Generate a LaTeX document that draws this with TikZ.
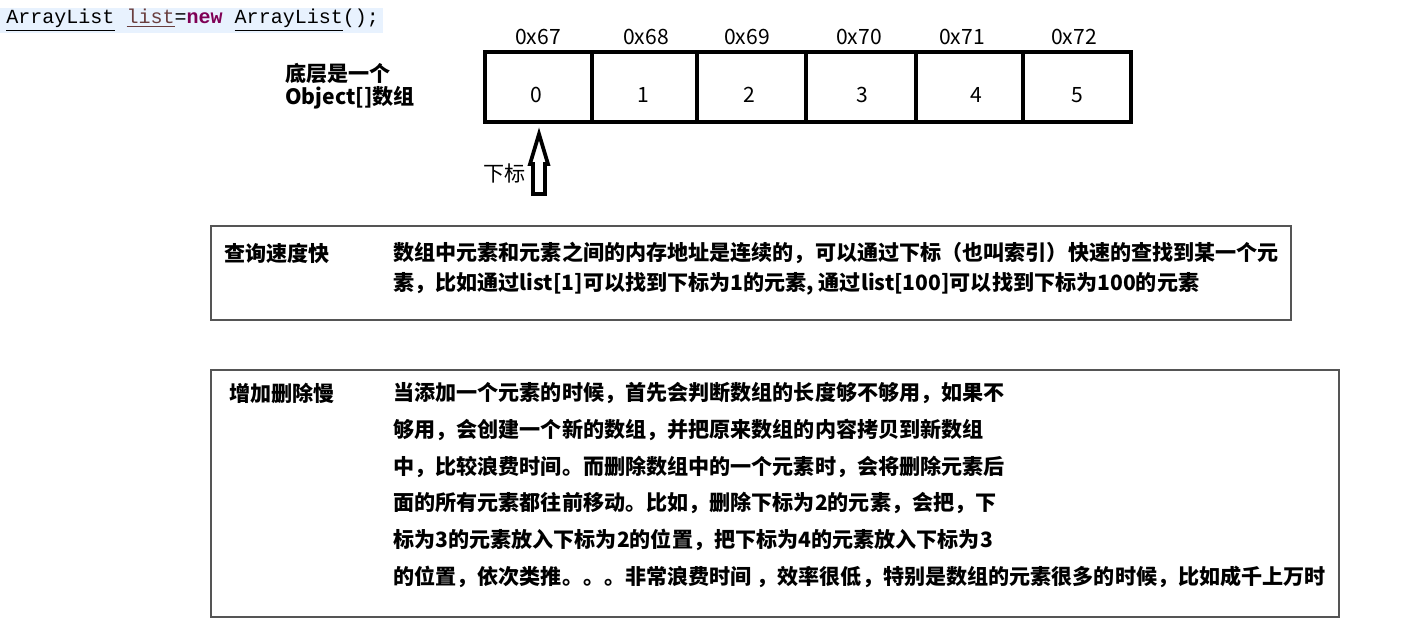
\documentclass[tikz,border=0pt]{standalone}
\usepackage{fontspec}
\setmainfont{Noto Sans CJK SC}
\setmonofont{Liberation Mono}
\usetikzlibrary{positioning}
\definecolor{codebg}{RGB}{232,242,254}
\definecolor{kwpurple}{RGB}{127,0,85}
\definecolor{varbrown}{RGB}{106,62,62}
\definecolor{boxgray}{RGB}{85,85,85}
\tikzset{
  plain/.style={font=\fontsize{12}{14}\selectfont, inner sep=0pt},
  tag/.style={font=\bfseries\fontsize{12}{14}\selectfont, inner sep=0pt, anchor=west},
  cellline/.style={line width=0.08cm},
  infobox/.style={draw=boxgray, line width=0.7pt},
}
\begin{document}
\begin{tikzpicture}[x=0.02cm,y=-0.02cm]
  \useasboundingbox (0,0) rectangle (1422,637);

  % la ligne de code
  \fill[codebg] (0,8) rectangle (383,33);
  \node[inner sep=0pt, anchor=west, font=\ttfamily\fontsize{11.4}{13}\selectfont] (code) at (6,20)
    {\underline{ArrayList} \textcolor{varbrown}{\underline{list}}=\textcolor{kwpurple}{\bfseries new} \underline{ArrayList}();};

  % le tableau
  \foreach \i/\l/\r/\n/\ad/\na in {0/485/592/536/538/0x67, 1/592/697/643/646/0x68, 2/697/806/749/747/0x69,
                                   3/806/916/862/859/0x70, 4/916/1023/976/962/0x71, 5/1023/1131/1077/1074/0x72}{
    \draw[cellline] (\l,52) rectangle (\r,122);
    \node[plain] (cell\i) at (\n,95) {\i};
    \node[plain] (addr\i) at (\ad,37) {\na};
  }

  \node[tag, align=left] (under) at (285,86) {底层是一个\\[-1pt]Object[]数组};

  % la fleche (indice)
  \coordinate (tip) at (539,134);
  \draw[line width=0.075cm, line join=miter] (tip) -- (548,164) -- (545,164) -- (545,194)
    -- (533,194) -- (533,164) -- (530,164) -- cycle;
  \node[plain, anchor=west] (index) at (483,173) {下标};

  % premier cadre
  \draw[infobox] (211,226) rectangle (1291,320);
  \node[tag] (fast) at (224,253) {查询速度快};
  \foreach \k/\y/\t in {1/253/{数组中元素和元素之间的内存地址是连续的，可以通过下标（也叫索引）快速的查找到某一个元},
                        2/284/{素，比如通过list[1]可以找到下标为1的元素, 通过list[100]可以找到下标为100的元素}}{
    \node[tag] (fastline\k) at (393,\y) {\t};
  }

  % second cadre
  \draw[infobox] (211,370) rectangle (1339,617);
  \node[tag] (slow) at (229,393) {增加删除慢};
  \foreach \k/\y/\t in {1/393/{当添加一个元素的时候，首先会判断数组的长度够不够用，如果不},
                        2/430/{够用，会创建一个新的数组，并把原来数组的内容拷贝到新数组},
                        3/467/{中，比较浪费时间。而删除数组中的一个元素时，会将删除元素后},
                        4/503/{面的所有元素都往前移动。比如，删除下标为2的元素，会把，下},
                        5/540/{标为3的元素放入下标为2的位置，把下标为4的元素放入下标为3},
                        6/577/{的位置，依次类推。。。非常浪费时间 ，效率很低，特别是数组的元素很多的时候，比如成千上万时}}{
    \node[tag] (slowline\k) at (393,\y) {\t};
  }
\end{tikzpicture}
\end{document}
